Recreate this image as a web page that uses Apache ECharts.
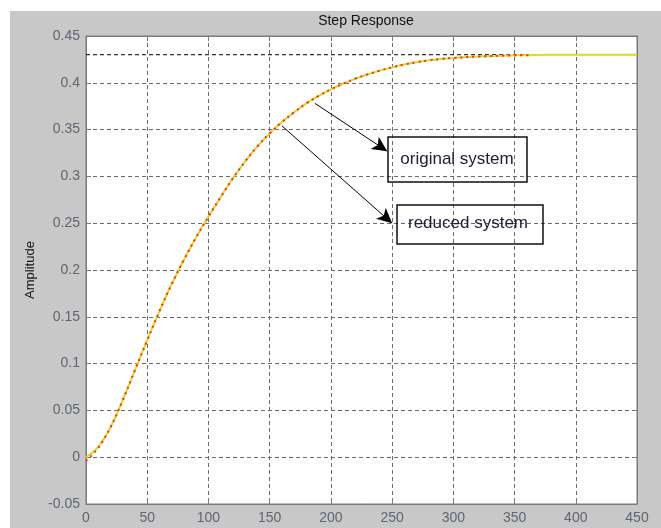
<!DOCTYPE html>
<html>
<head>
<meta charset="utf-8">
<script src="https://cdn.jsdelivr.net/npm/echarts@6/dist/echarts.min.js"></script>
<style>
  html, body { margin: 0; padding: 0; background: #ffffff; }
  #chart { width: 661px; height: 528px; }
</style>
</head>
<body>
<div id="chart"></div>
<script>
  // time (s) and amplitude
  var tOrig = [0, 10, 20, 30, 40, 50, 60, 70, 80, 90, 100, 110, 120, 130, 140, 150, 160, 170, 180, 190,
    200, 210, 220, 230, 240, 250, 260, 270, 280, 290, 300, 320, 340, 360, 380, 400, 450]
  var yOrig = [0, 0.011, 0.032, 0.061, 0.093, 0.125, 0.156, 0.185, 0.211, 0.235, 0.257, 0.278, 0.298, 0.316, 0.332, 0.346, 0.358, 0.3685, 0.378, 0.386,
    0.393, 0.399, 0.4045, 0.409, 0.413, 0.4165, 0.4195, 0.422, 0.424, 0.4255, 0.4265, 0.428, 0.429, 0.4295, 0.43, 0.43, 0.43]

  var tRed = [0, 10, 20, 30, 40, 50, 60, 70, 80, 90, 100, 110, 120, 130, 140, 150, 160, 170, 180, 190,
    200, 210, 220, 230, 240, 250, 260, 270, 280, 290, 300, 320, 340, 362]
  var yRed = [-0.004, 0.010, 0.032, 0.061, 0.093, 0.125, 0.156, 0.185, 0.211, 0.235, 0.257, 0.278, 0.298, 0.316, 0.332, 0.346, 0.358, 0.3685, 0.378, 0.386,
    0.393, 0.399, 0.4045, 0.409, 0.413, 0.4165, 0.4195, 0.422, 0.424, 0.4255, 0.4265, 0.428, 0.429, 0.4295]

  var tFinal = [0, 362]
  var yFinal = [0.43, 0.43]

  var xTicks = [0, 50, 100, 150, 200, 250, 300, 350, 400, 450]
  var yTicks = [-0.05, 0, 0.05, 0.1, 0.15, 0.2, 0.25, 0.3, 0.35, 0.4, 0.45]

  // arrows: [from t, from y, to t, to y]
  var arrowOrig = [187, 0.378, 246, 0.327]
  var arrowRed = [160, 0.354, 250, 0.250]

  function pairs(xs, ys) {
    var out = []
    for (var i = 0; i < xs.length; i++) {
      out.push([xs[i], ys[i]])
    }
    return out
  }

  var chart = echarts.init(document.getElementById('chart'))

  var labelColor = '#5f6670'
  var axisColor = '#7a7a7a'
  var gridStyle = { color: '#6a6a6a', type: [4, 3], width: 1 }
  var font = '"Liberation Sans", Arial, sans-serif'

  chart.setOption({
    animation: false,
    backgroundColor: '#ffffff',
    title: {
      text: 'Step Response',
      left: 361,
      top: 9,
      textAlign: 'center',
      textStyle: { fontFamily: font, fontSize: 14, fontWeight: 'normal', color: '#111' }
    },
    grid: {
      left: 86, top: 36, right: 24, bottom: 24,
      show: true,
      backgroundColor: '#ffffff',
      borderColor: axisColor,
      borderWidth: 1
    },
    xAxis: [{
      type: 'value',
      min: xTicks[0],
      max: xTicks[xTicks.length - 1],
      interval: 50,
      axisLine: { show: true, onZero: false, lineStyle: { color: axisColor } },
      axisTick: { show: true, inside: true, length: 5, lineStyle: { color: axisColor } },
      axisLabel: { color: labelColor, fontFamily: font, fontSize: 14, margin: 7 },
      splitLine: { show: true, lineStyle: gridStyle }
    }, {
      type: 'value',
      position: 'top',
      min: xTicks[0],
      max: xTicks[xTicks.length - 1],
      interval: 50,
      axisLine: { show: true, onZero: false, lineStyle: { color: axisColor } },
      axisTick: { show: true, inside: true, length: 5, lineStyle: { color: axisColor } },
      axisLabel: { show: false },
      splitLine: { show: false }
    }],
    yAxis: [{
      type: 'value',
      min: yTicks[0],
      max: yTicks[yTicks.length - 1],
      interval: 0.05,
      name: 'Amplitude',
      nameLocation: 'middle',
      nameGap: 49,
      nameTextStyle: { fontFamily: font, fontSize: 13, color: '#111' },
      axisLine: { show: true, onZero: false, lineStyle: { color: axisColor } },
      axisTick: { show: true, inside: true, length: 5, lineStyle: { color: axisColor } },
      axisLabel: {
        color: labelColor, fontFamily: font, fontSize: 14, margin: 6,
        formatter: function (v) { return String(parseFloat(v.toFixed(2))) }
      },
      splitLine: { show: true, lineStyle: gridStyle }
    }, {
      type: 'value',
      position: 'right',
      min: yTicks[0],
      max: yTicks[yTicks.length - 1],
      interval: 0.05,
      axisLine: { show: true, onZero: false, lineStyle: { color: axisColor } },
      axisTick: { show: true, inside: true, length: 5, lineStyle: { color: axisColor } },
      axisLabel: { show: false },
      splitLine: { show: false }
    }],
    series: [{
      name: 'final value',
      type: 'line',
      data: pairs(tFinal, yFinal),
      symbol: 'none',
      lineStyle: { color: '#000', width: 1, type: [4, 3] },
      z: 2
    }, {
      name: 'original system',
      type: 'line',
      data: pairs(tOrig, yOrig),
      symbol: 'none',
      smooth: 0.4,
      lineStyle: { color: '#d9d92a', width: 2 },
      z: 3
    }, {
      name: 'reduced system',
      type: 'line',
      data: pairs(tRed, yRed),
      symbol: 'none',
      smooth: 0.4,
      lineStyle: { color: '#ff2a1a', width: 2, type: [2, 4] },
      z: 4,
      markLine: {
        silent: true,
        symbol: ['none', 'arrow'],
        symbolSize: [11, 15],
        label: { show: false },
        lineStyle: { color: '#000', width: 1, type: 'solid' },
        data: [
          [{ coord: [arrowOrig[0], arrowOrig[1]] }, { coord: [arrowOrig[2], arrowOrig[3]] }],
          [{ coord: [arrowRed[0], arrowRed[1]] }, { coord: [arrowRed[2], arrowRed[3]] }]
        ]
      }
    }],
    graphic: [{
      type: 'rect',
      z: -100,
      silent: true,
      shape: { x: 10, y: 11, width: 651, height: 517 },
      style: { fill: '#c8c8c8' }
    }, {
      type: 'rect',
      z: 100,
      silent: true,
      shape: { x: 388, y: 137, width: 139, height: 45 },
      style: { fill: 'none', stroke: '#111', lineWidth: 1.5 }
    }, {
      type: 'text',
      z: 100,
      silent: true,
      x: 457, y: 159,
      style: {
        text: 'original system', fill: '#20203a', font: '17px ' + font,
        align: 'center', verticalAlign: 'middle'
      }
    }, {
      type: 'rect',
      z: 100,
      silent: true,
      shape: { x: 397, y: 205, width: 146, height: 39 },
      style: { fill: 'none', stroke: '#111', lineWidth: 1.5 }
    }, {
      type: 'text',
      z: 100,
      silent: true,
      x: 468, y: 223,
      style: {
        text: 'reduced system', fill: '#20203a', font: '17px ' + font,
        align: 'center', verticalAlign: 'middle'
      }
    }]
  })
</script>
</body>
</html>
